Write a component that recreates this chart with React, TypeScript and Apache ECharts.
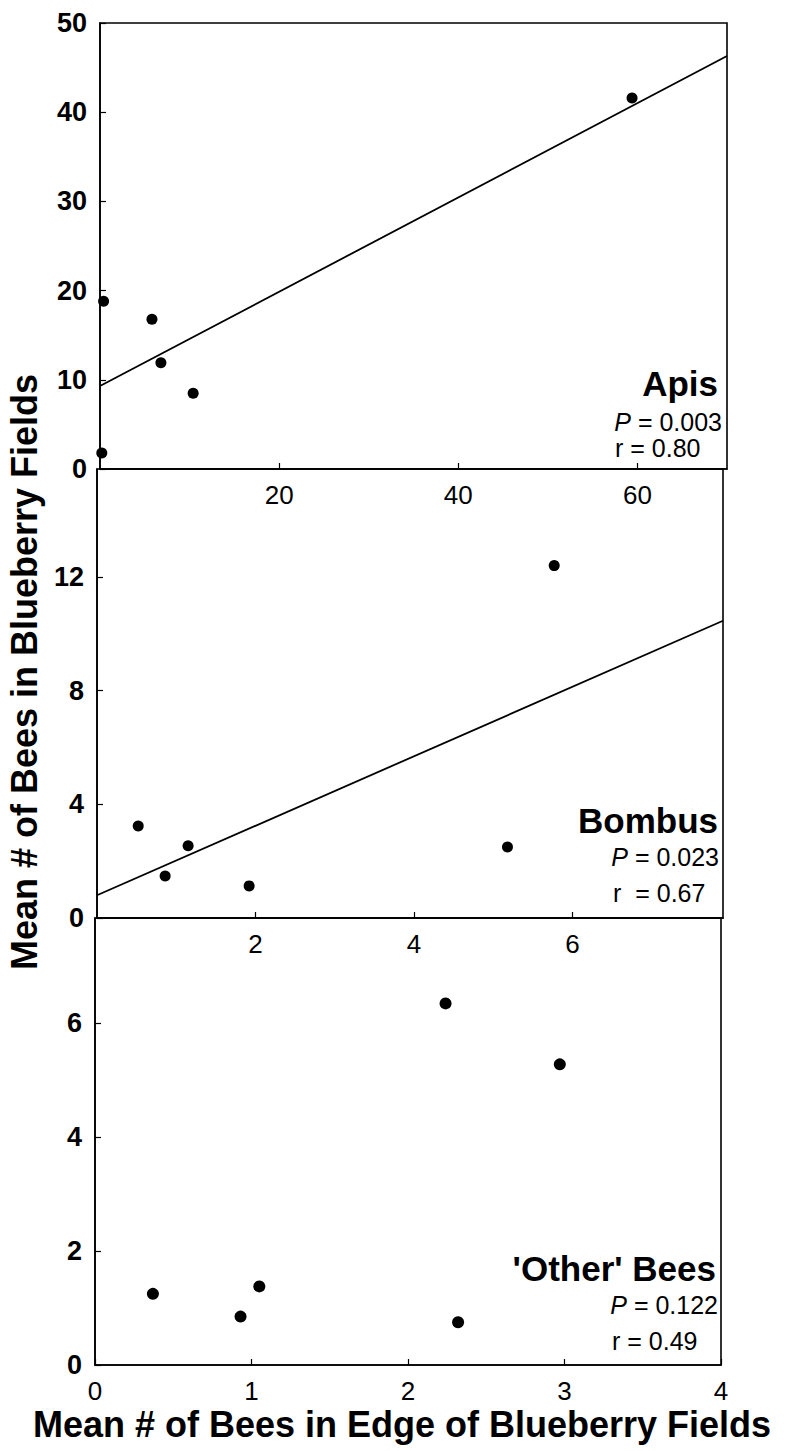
import React, { useEffect, useRef } from "react";
import * as echarts from "echarts";

// Panel 1: Apis
const apisPoints: [number, number][] = [
  [0.2, 1.8], [0.4, 18.8], [5.8, 16.8], [6.8, 11.9], [10.4, 8.5], [59.4, 41.6],
];
const apisFit: [number, number][] = [[0, 9.3], [70, 46.3]];
const apisXTicks = [20, 40, 60];
const apisYTicks = [0, 10, 20, 30, 40, 50];

// Panel 2: Bombus
const bombusPoints: [number, number][] = [
  [0.52, 3.24], [0.86, 1.48], [1.15, 2.54], [1.92, 1.13], [5.18, 2.5], [5.77, 12.4],
];
const bombusFit: [number, number][] = [[0, 0.8], [7.9, 10.46]];
const bombusXTicks = [2, 4, 6];
const bombusYTicks = [0, 4, 8, 12];

// Panel 3: 'Other' bees
const otherPoints: [number, number][] = [
  [0.37, 1.25], [0.93, 0.85], [1.05, 1.38], [2.24, 6.35], [2.32, 0.75], [2.97, 5.28],
];
const otherXTicks = [0, 1, 2, 3, 4];
const otherYTicks = [0, 2, 4, 6];

const FONT = "Liberation Sans, Arial, Helvetica, sans-serif";

export default function App() {
  const ref = useRef<HTMLDivElement>(null);
  useEffect(() => {
    if (!ref.current) return;
    const chart = echarts.init(ref.current, null, { renderer: "svg" });
    const grids = [
      { left: 100, top: 23, width: 627, height: 446 },
      { left: 97, top: 469, width: 626, height: 449 },
      { left: 95, top: 918, width: 626, height: 447 },
    ];
    const xRanges = [[0, 70], [0, 7.9], [0, 4]];
    const yRanges = [[0, 50], [0, 15.8], [0, 7.85]];
    const xTicks = [apisXTicks, bombusXTicks, otherXTicks];
    const yTicks = [apisYTicks, bombusYTicks, otherYTicks];
    const axisLine = { show: true, lineStyle: { color: "#000", width: 1.6 } };
    const rich = { i: { fontStyle: "italic", fontSize: 25, fontFamily: FONT } };
    const option: any = {
      animation: false,
      backgroundColor: "#fff",
      grid: grids.map((g) => ({ ...g, show: true, borderColor: "#000", borderWidth: 1.6, backgroundColor: "transparent" })),
      xAxis: grids.map((_, i) => ({
        type: "value",
        gridIndex: i,
        min: xRanges[i][0],
        max: xRanges[i][1],
        axisLine,
        splitLine: { show: false },
        axisTick: { show: true, inside: true, length: 6, customValues: xTicks[i], lineStyle: { color: "#000", width: 1.2 } },
        axisLabel: {
          customValues: xTicks[i],
          color: "#000",
          fontFamily: FONT,
          fontSize: 26,
          margin: 13,
        },
      })),
      yAxis: grids.map((_, i) => ({
        type: "value",
        gridIndex: i,
        min: yRanges[i][0],
        max: yRanges[i][1],
        axisLine,
        splitLine: { show: false },
        axisTick: { show: true, inside: true, length: 6, customValues: yTicks[i], lineStyle: { color: "#000", width: 1.2 } },
        axisLabel: {
          customValues: yTicks[i],
          color: "#000",
          fontFamily: FONT,
          fontSize: 27,
          fontWeight: "bold",
          margin: 13,
        },
      })),
      series: [
        { type: "line", xAxisIndex: 0, yAxisIndex: 0, data: apisFit, symbol: "none", lineStyle: { color: "#000", width: 1.8 } },
        { type: "scatter", xAxisIndex: 0, yAxisIndex: 0, data: apisPoints, symbolSize: 11, itemStyle: { color: "#000", opacity: 1 } },
        { type: "line", xAxisIndex: 1, yAxisIndex: 1, data: bombusFit, symbol: "none", lineStyle: { color: "#000", width: 1.8 } },
        { type: "scatter", xAxisIndex: 1, yAxisIndex: 1, data: bombusPoints, symbolSize: 11, itemStyle: { color: "#000", opacity: 1 } },
        { type: "scatter", xAxisIndex: 2, yAxisIndex: 2, data: otherPoints, symbolSize: 12, itemStyle: { color: "#000", opacity: 1 } },
      ],
      graphic: [
        { type: "text", x: 718, y: 383, style: { text: "Apis", font: `bold 35px ${FONT}`, fill: "#000", align: "right", verticalAlign: "middle" } },
        { type: "text", x: 722, y: 422, style: { text: "{i|P} = 0.003", font: `25px ${FONT}`, fill: "#000", align: "right", verticalAlign: "middle", rich } },
        { type: "text", x: 615, y: 448, style: { text: "r = 0.80", font: `25px ${FONT}`, fill: "#000", align: "left", verticalAlign: "middle" } },
        { type: "text", x: 718, y: 820, style: { text: "Bombus", font: `bold 35px ${FONT}`, fill: "#000", align: "right", verticalAlign: "middle" } },
        { type: "text", x: 719, y: 857, style: { text: "{i|P} = 0.023", font: `25px ${FONT}`, fill: "#000", align: "right", verticalAlign: "middle", rich } },
        { type: "text", x: 613, y: 893, style: { text: "r  = 0.67", font: `25px ${FONT}`, fill: "#000", align: "left", verticalAlign: "middle" } },
        { type: "text", x: 716, y: 1268, style: { text: "'Other' Bees", font: `bold 35px ${FONT}`, fill: "#000", align: "right", verticalAlign: "middle" } },
        { type: "text", x: 718, y: 1305, style: { text: "{i|P} = 0.122", font: `25px ${FONT}`, fill: "#000", align: "right", verticalAlign: "middle", rich } },
        { type: "text", x: 612, y: 1341, style: { text: "r = 0.49", font: `25px ${FONT}`, fill: "#000", align: "left", verticalAlign: "middle" } },
        { type: "text", x: 24, y: 672, rotation: Math.PI / 2, style: { text: "Mean # of Bees in Blueberry Fields", font: `bold 36px ${FONT}`, fill: "#000", align: "center", verticalAlign: "middle" } },
        { type: "text", x: 402, y: 1424, style: { text: "Mean # of Bees in Edge of Blueberry Fields", font: `bold 36px ${FONT}`, fill: "#000", align: "center", verticalAlign: "middle" } },
      ],
    };
    chart.setOption(option);
    return () => chart.dispose();
  }, []);
  return <div ref={ref} style={{ position: "absolute", left: 0, top: 0, width: 794, height: 1451 }} />;
}
